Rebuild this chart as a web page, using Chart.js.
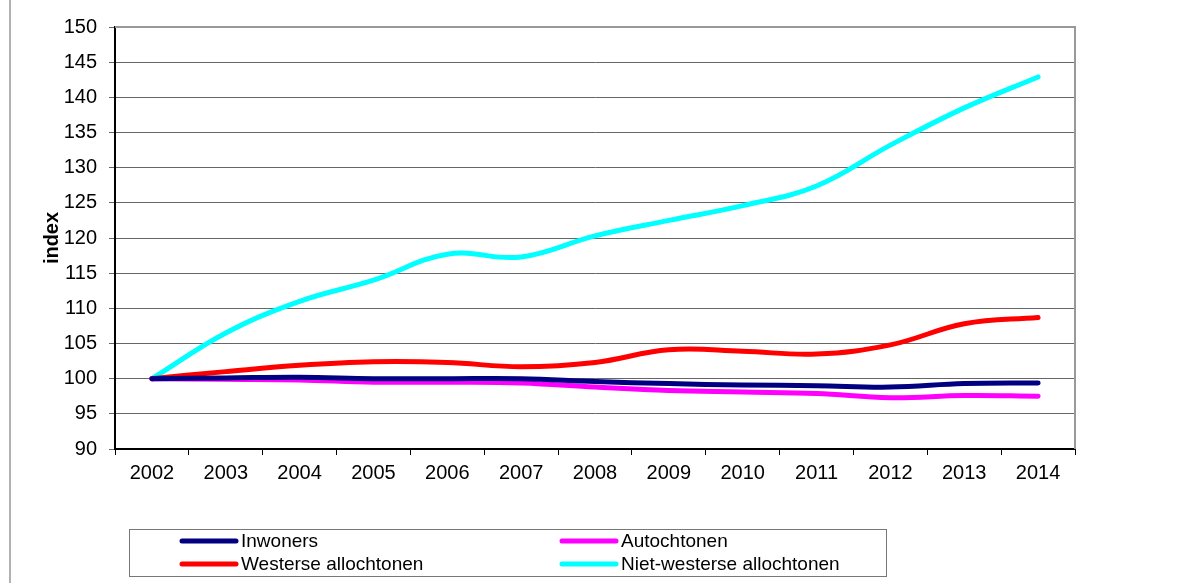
<!DOCTYPE html>
<html>
<head>
<meta charset="utf-8">
<script src="https://cdn.jsdelivr.net/npm/chart.js@4.4.0/dist/chart.umd.min.js"></script>
<style>
  html, body { margin: 0; padding: 0; background: #fff; }
  #wrap { width: 1184px; height: 583px; }
</style>
</head>
<body>
<div id="wrap"><canvas id="indexGraph" width="1184" height="583"></canvas></div>
<script>
// jaren en index (2002 = 100)
var jaren = ['2002','2003','2004','2005','2006','2007','2008','2009','2010','2011','2012','2013','2014'];
var inwoners    = [100, 100.1, 100.2, 100.0, 100.0, 100.0, 99.6, 99.3, 99.1, 99.0, 98.8, 99.3, 99.4];
var autochtonen = [100, 99.9, 99.8, 99.5, 99.5, 99.4, 98.8, 98.3, 98.1, 97.9, 97.3, 97.6, 97.5];
var westers     = [100, 101.0, 101.9, 102.4, 102.3, 101.7, 102.3, 104.1, 103.9, 103.5, 104.8, 107.8, 108.7];
var nietWesters = [100, 106.5, 111.0, 114.0, 117.7, 117.3, 120.3, 122.5, 124.6, 127.4, 133.2, 138.5, 142.9];
var yTicks = [90, 95, 100, 105, 110, 115, 120, 125, 130, 135, 140, 145, 150];

var font = "'Liberation Sans', Arial, sans-serif";

// rand links, kader rond plotgebied en legenda
var kaderPlugin = {
  id: 'kader',
  beforeDraw: function(chart) {
    var c = chart.ctx;
    c.save();
    c.strokeStyle = '#999';
    c.lineWidth = 1.5;
    c.beginPath();
    c.moveTo(10, 0);
    c.lineTo(10, 583);
    c.stroke();
    c.restore();
  },
  afterDatasetsDraw: function(chart) {
    var c = chart.ctx, a = chart.chartArea;
    c.save();
    c.strokeStyle = '#999';
    c.lineWidth = 2;
    c.beginPath();
    c.moveTo(a.left, a.top);
    c.lineTo(a.right, a.top);
    c.lineTo(a.right, a.bottom);
    c.stroke();

    // legenda
    c.strokeStyle = '#777';
    c.lineWidth = 1;
    c.strokeRect(129.5, 529.5, 757, 47);
    var pos = [[182, 541], [562, 541], [182, 564], [562, 564]];
    c.font = '19px ' + font;
    c.textBaseline = 'middle';
    c.fillStyle = '#000';
    c.lineCap = 'round';
    for (var i = 0; i < chart.data.datasets.length; i++) {
      var ds = chart.data.datasets[i];
      var p = pos[i];
      c.strokeStyle = ds.borderColor;
      c.lineWidth = 5;
      c.beginPath();
      c.moveTo(p[0], p[1]);
      c.lineTo(p[0] + 54, p[1]);
      c.stroke();
      c.fillText(ds.label, p[0] + 59, p[1] + 1);
    }
    c.restore();
  }
};

var ctx = document.getElementById('indexGraph').getContext('2d');
var myChart = new Chart(ctx, {
  type: 'line',
  data: {
    labels: jaren,
    datasets: [{
      label: 'Inwoners',
      data: inwoners,
      borderColor: '#000080'
    }, {
      label: 'Autochtonen',
      data: autochtonen,
      borderColor: '#ff00ff'
    }, {
      label: 'Westerse allochtonen',
      data: westers,
      borderColor: '#ff0000'
    }, {
      label: 'Niet-westerse allochtonen',
      data: nietWesters,
      borderColor: '#00ffff'
    }]
  },
  options: {
    responsive: false,
    animation: false,
    layout: { padding: { left: 10, top: 27, right: 109, bottom: 0 } },
    elements: {
      line: { borderWidth: 5, tension: 0.4, borderCapStyle: 'round', fill: false },
      point: { radius: 0 }
    },
    plugins: {
      legend: { display: false },
      tooltip: { enabled: false }
    },
    scales: {
      x: {
        offset: true,
        grid: { offset: true, drawOnChartArea: false, drawTicks: true, tickLength: 6, color: '#000' },
        border: { color: '#000', width: 2 },
        ticks: { color: '#000', font: { family: font, size: 20 }, padding: 6, maxRotation: 0 },
        afterFit: function(s) { s.height = 583 - 449; }
      },
      y: {
        min: 90,
        max: 150,
        afterBuildTicks: function(s) {
          s.ticks = yTicks.map(function(v) { return { value: v }; });
        },
        grid: { color: '#666', lineWidth: 1, tickLength: 6 },
        border: { color: '#000', width: 2 },
        ticks: { color: '#000', font: { family: font, size: 20 }, padding: 12 },
        title: { display: true, text: 'index', color: '#000', font: { family: font, size: 20, weight: 'bold' }, padding: { top: 30, bottom: 0 } },
        afterFit: function(s) { s.width = 115 - 10; }
      }
    }
  },
  plugins: [kaderPlugin]
});
</script>
</body>
</html>
